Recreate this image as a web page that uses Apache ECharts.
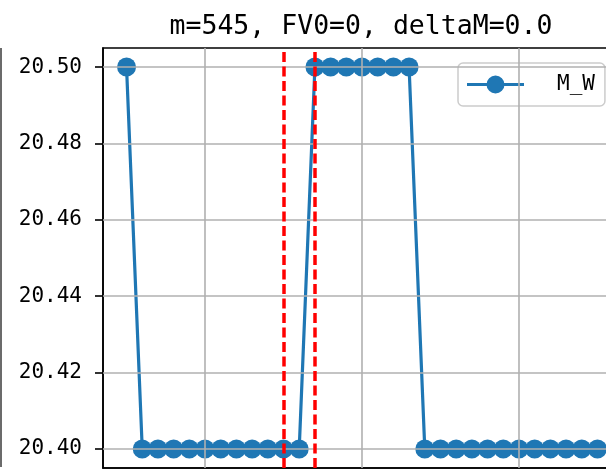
<!DOCTYPE html>
<html>
<head>
<meta charset="utf-8">
<script src="https://cdn.jsdelivr.net/npm/echarts@6/dist/echarts.min.js"></script>
<style>html,body{margin:0;padding:0;background:#fff;}#c{width:606px;height:471px;}</style>
</head>
<body>
<div id="c"></div>
<script>
const titleText = 'm=545, FV0=0, deltaM=0.0';
const xValues = [535, 536, 537, 538, 539, 540, 541, 542, 543, 544, 545, 546, 547, 548, 549, 550,
                 551, 552, 553, 554, 555, 556, 557, 558, 559, 560, 561, 562, 563, 564, 565];
const mW = [20.50, 20.40, 20.40, 20.40, 20.40, 20.40, 20.40, 20.40, 20.40, 20.40, 20.40, 20.40,
            20.50, 20.50, 20.50, 20.50, 20.50, 20.50, 20.50,
            20.40, 20.40, 20.40, 20.40, 20.40, 20.40, 20.40, 20.40, 20.40, 20.40, 20.40, 20.40];
const yTicks = [20.40, 20.42, 20.44, 20.46, 20.48, 20.50];
const xGrid = [540, 550, 560];
const redLines = [545, 547];
const seriesName = 'M_W';

const MONO = '"DejaVu Sans Mono", monospace';
const chart = echarts.init(document.getElementById('c'), null, {renderer: 'canvas'});

const gridLines = [];
yTicks.forEach(v => gridLines.push({yAxis: v}));
xGrid.forEach(v => gridLines.push({xAxis: v}));

const legendIcon = 'path://M0,7.5 L57,7.5 L57,10.5 L0,10.5 Z M37.5,9 A9,9 0 1 1 19.5,9 A9,9 0 1 1 37.5,9 Z';

chart.setOption({
  animation: false,
  backgroundColor: '#ffffff',
  title: {
    text: titleText,
    left: 361, top: 14, padding: 0,
    textAlign: 'center',
    textStyle: {fontFamily: MONO, fontSize: 26.5, fontWeight: 'normal', color: '#000'}
  },
  legend: {
    data: [{name: seriesName, icon: legendIcon}],
    left: 458, top: 63,
    padding: [11, 10, 11, 9],
    itemWidth: 57, itemHeight: 18,
    backgroundColor: 'rgba(255,255,255,0.8)',
    borderColor: '#cccccc', borderWidth: 1.5, borderRadius: 5,
    textStyle: {fontFamily: MONO, fontSize: 21, color: '#000', padding: [0, 0, 0, 28]}
  },
  grid: {
    left: 103, top: 48, height: 420, width: 518,
    outerBoundsMode: 'none', containLabel: false,
    show: true, borderColor: '#000', borderWidth: 1.6, backgroundColor: 'transparent'
  },
  xAxis: {
    type: 'value', min: 533.5, max: 566.5,
    axisLine: {show: true, lineStyle: {color: '#000', width: 1.6}},
    axisTick: {show: false}, axisLabel: {show: false}, splitLine: {show: false}
  },
  yAxis: {
    type: 'value', min: 20.395, max: 20.505,
    axisLine: {show: true, lineStyle: {color: '#000', width: 1.6}},
    axisTick: {show: true, length: 8, customValues: yTicks, lineStyle: {color: '#000', width: 1.6}},
    axisLabel: {
      show: true, customValues: yTicks, margin: 21,
      fontFamily: MONO, fontSize: 21, color: '#000',
      formatter: v => Number(v).toFixed(2)
    },
    splitLine: {show: false}
  },
  graphic: [{
    type: 'line', silent: true,
    shape: {x1: 1, y1: 48, x2: 1, y2: 467},
    style: {stroke: '#3a3a3a', lineWidth: 1.5}
  }],
  series: [
    {
      name: 'grid', type: 'line', data: [], z: 1, silent: true,
      markLine: {
        silent: true, symbol: ['none', 'none'], label: {show: false},
        lineStyle: {color: '#b0b0b0', width: 1.6, type: 'solid'},
        emphasis: {disabled: true},
        data: gridLines
      }
    },
    {
      name: seriesName, type: 'line', z: 3,
      data: xValues.map((x, i) => [x, mW[i]]),
      symbol: 'circle', symbolSize: 19,
      itemStyle: {color: '#1f77b4'},
      lineStyle: {color: '#1f77b4', width: 3.2},
      emphasis: {disabled: true}
    },
    {
      name: 'red', type: 'line', data: [], z: 5, silent: true,
      markLine: {
        silent: true, symbol: ['none', 'none'], label: {show: false},
        lineStyle: {color: '#ff0000', width: 3.5, type: [10, 4.5]},
        emphasis: {disabled: true},
        data: redLines.map(v => ({xAxis: v}))
      }
    }
  ]
});
</script>
</body>
</html>
